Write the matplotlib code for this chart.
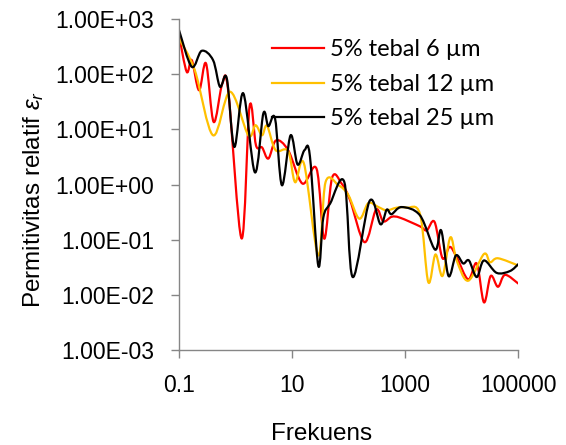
import numpy as np
import matplotlib

matplotlib.use("Agg")
import matplotlib.pyplot as plt
from matplotlib.path import Path
from matplotlib.patches import PathPatch
from matplotlib.lines import Line2D
from matplotlib.ticker import FuncFormatter

# values (frequency, relative permittivity)
freq_6 = [0.1, 0.137, 0.168, 0.226, 0.30, 0.41, 0.58, 0.74, 1.28, 1.77, 2.3, 2.94,
          3.8, 5.2, 8.5, 15.2, 27, 37, 51, 75, 106, 191, 305, 410, 577, 810, 1830,
          2400, 3300, 4570, 6120, 8140, 13000, 18400, 24700, 32500, 43700, 58200, 100000]
eps_6 = [510, 110, 180, 51, 157, 13.6, 66, 51, 0.105, 26, 5.1, 4.7,
         2.95, 6.3, 4.2, 1.04, 1.94, 0.104, 1.33, 1.04, 0.52, 0.090, 0.35, 0.214, 0.26, 0.25, 0.174,
         0.147, 0.21, 0.046, 0.074, 0.048, 0.019, 0.037, 0.0073, 0.022, 0.014, 0.023, 0.016]

freq_12 = [0.1, 0.19, 0.40, 0.80, 1.68, 2.25, 2.94, 3.6, 5.1, 8.5, 11.3, 16.2, 29, 39,
           66, 99, 154, 223, 335, 471, 707, 1060, 1830, 2560, 3430, 4570, 6280, 8140,
           13000, 24700, 31600, 43700, 100000]
eps_12 = [445, 118, 7.8, 48, 7.8, 11.9, 7.8, 11.6, 4.2, 4.05, 1.1, 2.4, 0.052, 1.1,
          0.97, 0.64, 0.24, 0.46, 0.39, 0.34, 0.38, 0.38, 0.29, 0.017, 0.054, 0.022, 0.11, 0.042,
          0.018, 0.055, 0.039, 0.046, 0.034]

freq_25 = [0.1, 0.168, 0.252, 0.40, 0.53, 0.70, 0.95, 1.37, 2.2, 3.1, 3.8, 5.0, 6.6, 9.4,
           12.5, 16.6, 20.7, 29, 35.6, 47, 84, 118, 234, 366, 471, 572, 867, 1830, 3370,
           4330, 5830, 7900, 10600, 13400, 18400, 24700, 41500, 71300, 100000]
eps_25 = [630, 136, 265, 180, 59, 84, 4.8, 45, 1.66, 19.4, 11.4, 15.6, 0.97, 7.8,
          2.3, 4.2, 3.2, 0.034, 0.25, 0.45, 1.1, 0.021, 0.50, 0.19, 0.35, 0.29, 0.39, 0.275, 0.066,
          0.147, 0.022, 0.052, 0.037, 0.042, 0.021, 0.042, 0.025, 0.027, 0.036]

labels = ["5% tebal 6 \u00b5m", "5% tebal 12 \u00b5m", "5% tebal 25 \u00b5m"]
colors = ["#FF0000", "#FFC000", "#000000"]

x_ticks = [0.1, 10, 1000, 100000]
x_tick_labels = ["0.1", "10", "1000", "100000"]
y_ticks = [1e-3, 1e-2, 1e-1, 1e0, 1e1, 1e2, 1e3]


def smooth_path(xs, ys):
    # Excel-like smoothed line: bezier segments through the points, built in log space
    pts = np.column_stack([np.log10(xs), np.log10(ys)])
    n = len(pts)
    verts = [pts[0]]
    codes = [Path.MOVETO]
    for i in range(n - 1):
        p0 = pts[i - 1] if i > 0 else pts[i]
        p1 = pts[i]
        p2 = pts[i + 1]
        p3 = pts[i + 2] if i + 2 < n else pts[i + 1]
        verts += [p1 + (p2 - p0) / 6, p2 - (p3 - p1) / 6, p2]
        codes += [Path.CURVE4] * 3
    return Path(10 ** np.array(verts), codes)


plt.rcParams["font.family"] = ["Liberation Sans", "DejaVu Sans"]
plt.rcParams["mathtext.fontset"] = "custom"
plt.rcParams["mathtext.it"] = "Liberation Sans:italic"
plt.rcParams["mathtext.rm"] = "Liberation Sans"

fig = plt.figure(figsize=(5.66, 4.45), dpi=100)
ax = fig.add_axes([179 / 566, 1 - 350 / 445, 339.3 / 566, 331 / 445])
ax.set_xscale("log")
ax.set_yscale("log")
ax.set_xlim(0.1, 100000)
ax.set_ylim(1e-3, 1e3)

series = [(freq_6, eps_6), (freq_12, eps_12), (freq_25, eps_25)]
for (xs, ys), c in zip(series, colors):
    patch = PathPatch(smooth_path(xs, ys), facecolor="none", edgecolor=c,
                      linewidth=1.6, capstyle="round", joinstyle="round")
    ax.add_patch(patch)

gray = "#868686"
for side in ["top", "right"]:
    ax.spines[side].set_visible(False)
for side in ["left", "bottom"]:
    ax.spines[side].set_color(gray)
    ax.spines[side].set_linewidth(1.0)

ax.set_xticks(x_ticks)
ax.set_xticklabels(x_tick_labels)
ax.set_yticks(y_ticks)
ax.yaxis.set_major_formatter(FuncFormatter(lambda v, p: f"{v:.2E}"))
ax.minorticks_off()
ax.tick_params(axis="both", colors=gray, labelcolor="black", length=6, width=1.0,
               labelsize=16.5)
ax.tick_params(axis="y", pad=12)
ax.tick_params(axis="x", pad=11)

fig.text(321.7 / 566, 1 - 440 / 445, "Frekuens", ha="center", va="baseline", fontsize=17.5)
fig.text(34 / 566, 1 - 200 / 445, r"Permitivitas relatif $\varepsilon_r$",
         rotation=90, ha="center", va="center", fontsize=17.5)

handles = [Line2D([], [], color=c, linewidth=1.6) for c in colors]
ax.legend(handles, labels, loc="upper left", bbox_to_anchor=(271.7 / 566, 1 - 39.4 / 445),
          bbox_transform=fig.transFigure, frameon=False,
          prop={"family": "Lato", "size": 17}, handlelength=2.2, handletextpad=0.28,
          labelspacing=0.57, borderpad=0, borderaxespad=0)

fig.savefig("out.png", dpi=100)
